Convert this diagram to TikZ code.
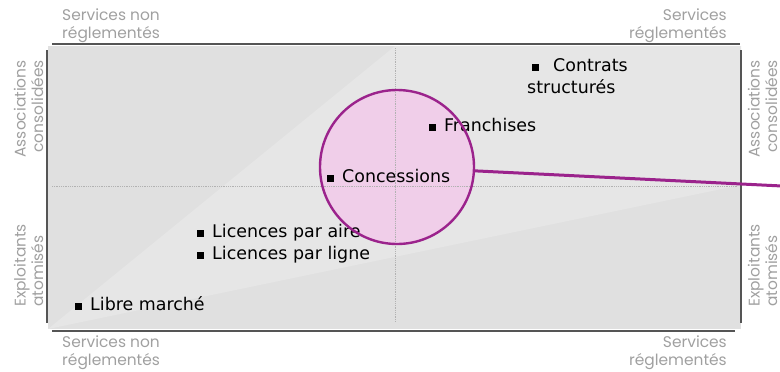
\documentclass[tikz,border=0pt]{standalone}
\usepackage{fontspec}
\setmainfont{DejaVu Sans}
\newfontfamily\axisfont{Poppins}
\usepackage{xcolor}
\definecolor{panelgray}{RGB}{224,224,224}
\definecolor{wedgegray}{RGB}{230,230,230}
\definecolor{labelgray}{RGB}{160,160,160}
\definecolor{axisgray}{RGB}{85,85,85}
\definecolor{dotgray}{RGB}{178,178,178}
\definecolor{zonepurple}{RGB}{155,35,140}
\definecolor{zonepink}{RGB}{242,204,234}
\usetikzlibrary{positioning, calc}

\tikzset{
  axislabel/.style={font=\fontsize{15.5}{17.5}\axisfont, text=labelgray, inner sep=0pt},
  item/.style={font=\fontsize{17.5}{22}\selectfont, text=black, inner sep=0pt, anchor=base west},
  axisline/.style={draw=axisgray, line width=1.2bp},
  crossline/.style={draw=dotgray, densely dotted, line width=0.8bp}
}
\newcommand{\itembox}{\rule{7bp}{7.5bp}\hspace{8bp}}

\begin{document}
\begin{tikzpicture}[x=1bp, y=-1bp]
  \useasboundingbox (0,0) rectangle (780,371);
  % panel
  \fill[panelgray] (48,46) rectangle (741,329);
  \fill[wedgegray] (48,329) -- (395,46) -- (741,46) -- (741,185) -- cycle;
  % axes
  \draw[axisline] (52,44) -- (740,44);
  \draw[axisline] (52,331) -- (735,331);
  \draw[axisline] (47,50) -- (47,323);
  \draw[axisline] (741,50) -- (741,323);
  % cross
  \draw[crossline] (52,186) -- (737,186);
  \draw[crossline] (395,48) -- (395,322);

  % zone
  \node[circle, fill=zonepink, fill opacity=0.9, minimum size=154bp, inner sep=0pt] (zone) at (397,167) {};
  \draw[crossline] (320,186) -- (474,186);
  \draw[crossline] (395,90) -- (395,244);

  % items
  \node[item] (contrats) at (532,71) {\itembox\hspace{6bp}Contrats};
  \node[item] (structures) at (527,93) {structurés};
  \node[item] (franchises) at (429,131) {\itembox Franchises};
  \node[item] (concessions) at (327,182) {\itembox Concessions};
  \node[item] (aire) at (197,237) {\itembox Licences par aire};
  \node[item] (ligne) at (197,259) {\itembox Licences par ligne};
  \node[item] (libre) at (75,310) {\itembox Libre marché};

  % zone border and link
  \draw[zonepurple, line width=2.4bp] (zone.center) circle[radius=77bp];
  \coordinate (linkend) at (782,186);
  \draw[zonepurple, line width=3bp] (zone) -- (linkend);

  % axis labels (base = last line)
  \node[axislabel, align=left, anchor=base west] (tl) at (62,38) {Services non\\réglementés};
  \node[axislabel, align=right, anchor=base east] (tr) at (727,38) {Services\\réglementés};
  \node[axislabel, align=left, anchor=base west] (bl) at (62,365) {Services non\\réglementés};
  \node[axislabel, align=right, anchor=base east] (br) at (727,365) {Services\\réglementés};
  \node[axislabel, align=right, rotate=90, anchor=base east] (lt) at (43,60) {Associations\\consolidées};
  \node[axislabel, align=left, rotate=90, anchor=base west] (lb) at (43,307) {Exploitants\\atomisés};
  \node[axislabel, align=right, rotate=90, anchor=base east] (rt) at (777,60) {Associations\\consolidées};
  \node[axislabel, align=left, rotate=90, anchor=base west] (rb) at (777,307) {Exploitants\\atomisés};
\end{tikzpicture}
\end{document}
